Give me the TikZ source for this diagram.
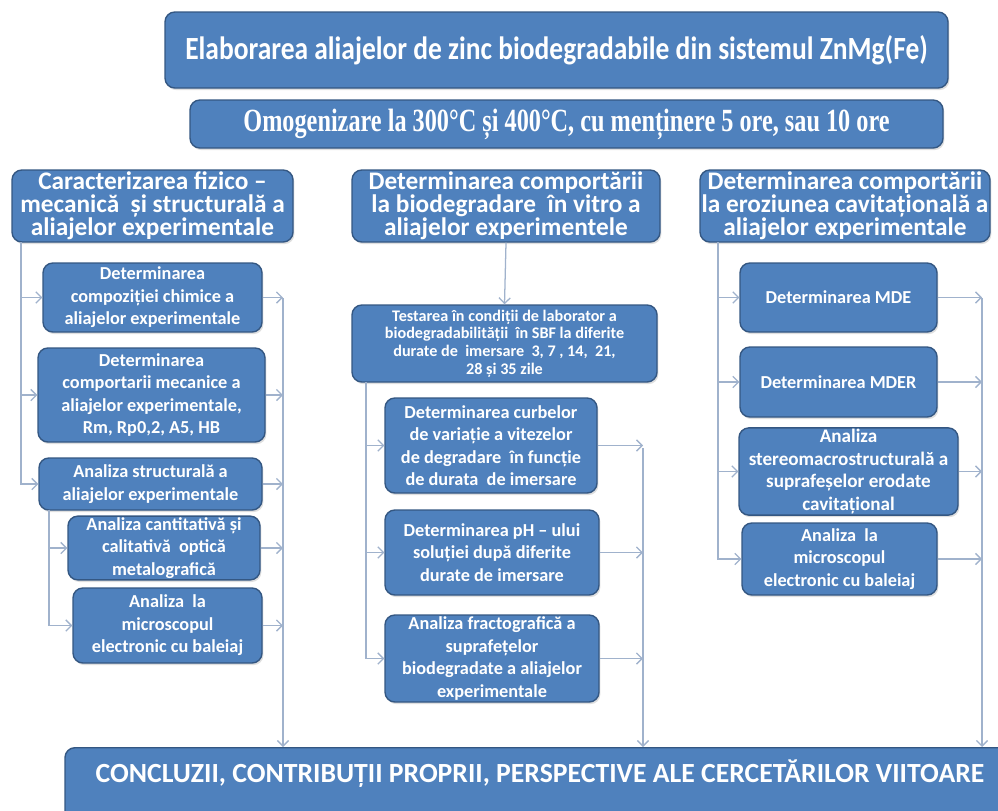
\documentclass[tikz,border=0pt]{standalone}
\usepackage{fontspec}
\setmainfont{Carlito}
\newfontfamily\titlefont{Carlito}[FakeStretch=0.85]
\newfontfamily\omofont{Liberation Serif}[FakeStretch=0.75]
\usetikzlibrary{arrows.meta,shadows}
\definecolor{boxblue}{RGB}{79,129,189}
\definecolor{boxedge}{RGB}{52,87,130}
\definecolor{linkgray}{RGB}{160,178,204}
\tikzset{
  box/.style={draw=boxedge, line width=1pt, fill=boxblue, rounded corners=7pt, text=white,
              align=center, font=\bfseries, inner sep=1pt,
              drop shadow={opacity=0.25, shadow xshift=1pt, shadow yshift=-1.5pt}},
  sz/.style 2 args={minimum width=#1*0.025cm, minimum height=#2*0.025cm},
  small/.style={font=\fontsize{13}{16}\selectfont\bfseries},
  head/.style={font=\fontsize{18}{16.5}\selectfont\bfseries},
  link/.style={draw=linkgray, line width=0.9pt, -{Straight Barb[length=4pt,width=8pt]}}
}
\begin{document}
\begin{tikzpicture}[x=0.025cm, y=-0.025cm]
  \useasboundingbox (0,0) rectangle (998,810);
  % top boxes
  \node[box, sz={783}{76}, font=\titlefont\fontsize{23}{26}\selectfont\bfseries] (title) at (556.5,50)
    {Elaborarea aliajelor de zinc biodegradabile din sistemul ZnMg(Fe)};
  \node[box, sz={753}{48}, font=\omofont\fontsize{23}{26}\selectfont\bfseries] (omo) at (566.5,124)
    {Omogenizare la 300°C și 400°C, cu menținere 5 ore, sau 10 ore};
  % column heads
  \node[box, sz={281}{72}, head] (hL) at (152.5,206) {Caracterizarea fizico –\\ mecanică\ \ și structurală a\\ aliajelor experimentale};
  \node[box, sz={308}{72}, head] (hM) at (506,206) {Determinarea comportării\\ la biodegradare\ \ în vitro a\\ aliajelor experimentele};
  \node[box, sz={290}{72}, head] (hR) at (845,206) {Determinarea comportării\\ la eroziunea cavitațională a\\ aliajelor experimentale};
  % left column
  \node[box, sz={219}{69}, small] (L1) at (152.5,297.5) {Determinarea\\ compoziției chimice a\\ aliajelor experimentale};
  \node[box, sz={227}{94}, small] (L2) at (151.5,395) {Determinarea\\ comportarii mecanice a\\ aliajelor experimentale,\\ Rm, Rp0,2, A5, HB};
  \node[box, sz={223}{52}, small] (L3) at (150.5,484) {Analiza structurală a\\ aliajelor experimentale};
  \node[box, sz={192}{60}, small] (L4) at (164,548) {Analiza cantitativă și\\ calitativă\ \ optică\\ metalografică};
  \node[box, sz={189}{75}, small] (L5) at (167.5,625.5) {Analiza\ \ la\\ microscopul\\ electronic cu baleiaj};
  % middle column
  \node[box, sz={305}{77}, font=\fontsize{11.5}{12.5}\selectfont\bfseries] (M0) at (504.5,343.5)
    {Testarea în condiții de laborator a\\ biodegradabilității\ \ în SBF la diferite\\ durate de\ \ imersare\ \ 3, 7 , 14,\ \ 21,\\ 28 și 35 zile};
  \node[box, sz={212}{95}, small] (M1) at (491,445.5) {Determinarea curbelor\\ de variație a vitezelor\\ de degradare\ \ în funcție\\ de durata\ \ de imersare};
  \node[box, sz={214}{85}, small] (M2) at (492,552.5) {Determinarea pH – ului\\ soluției după diferite\\ durate de imersare};
  \node[box, sz={214}{87}, small] (M3) at (492,658.5) {Analiza fractografică a\\ suprafețelor\\ biodegradate a aliajelor\\ experimentale};
  % right column
  \node[box, sz={197}{69}, small] (R1) at (838.5,297.5) {Determinarea MDE};
  \node[box, sz={197}{70}, small] (R2) at (838.5,382) {Determinarea MDER};
  \node[box, sz={219}{77}, font=\fontsize{13.6}{16}\selectfont\bfseries] (R3) at (848.5,471.5) {Analiza\\ stereomacrostructurală a\\ suprafeșelor erodate\\ cavitațional};
  \node[box, sz={195}{72}, small] (R4) at (839.5,559) {Analiza\ \ la\\ microscopul\\ electronic cu baleiaj};
  % conclusions
  \node[box, anchor=north, minimum width=950*0.025cm, inner ysep=11pt, text height=14pt, text depth=40pt,
        font=\fontsize{19.7}{22}\selectfont\bfseries] (B) at (540,747)
    {CONCLUZII, CONTRIBUȚII PROPRII, PERSPECTIVE ALE CERCETĂRILOR VIITOARE};
  % trunks and collectors
  \coordinate (tL) at (21,242);   \coordinate (sL) at (49,510);   \coordinate (cL) at (283,298);
  \coordinate (tM) at (366,382);  \coordinate (cM) at (643,448);
  \coordinate (tR) at (718,242);  \coordinate (cR) at (982,298);
  % left links
  \draw[link] (tL) |- (L3.west);
  \foreach \n in {L1,L2} \draw[link] (\n.west -| tL) -- (\n.west);
  \draw[link] (sL) |- (L5.west);
  \draw[link] (L4.west -| sL) -- (L4.west);
  \foreach \n in {L1,L2,L3,L4,L5} \draw[link] (\n.east) -- (\n.east -| cL);
  \draw[link] (cL) -- (cL |- B.north);
  % middle links
  \draw[link] (hM.south) -- (M0.north);
  \draw[link] (tM) |- (M3.west);
  \foreach \n in {M1,M2} \draw[link] (\n.west -| tM) -- (\n.west);
  \foreach \n in {M1,M2,M3} \draw[link] (\n.east) -- (\n.east -| cM);
  \draw[link] (cM) -- (cM |- B.north);
  % right links
  \draw[link] (tR) |- (R4.west);
  \foreach \n in {R1,R2,R3} \draw[link] (\n.west -| tR) -- (\n.west);
  \foreach \n in {R1,R2,R3,R4} \draw[link] (\n.east) -- (\n.east -| cR);
  \draw[link] (cR) -- (cR |- B.north);
\end{tikzpicture}
\end{document}
